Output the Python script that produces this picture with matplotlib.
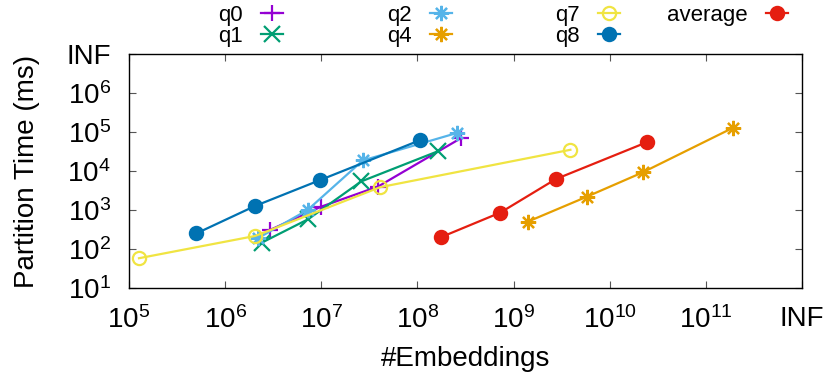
import matplotlib
matplotlib.use("Agg")
import matplotlib.pyplot as plt

plt.rcParams["font.family"] = ["Liberation Sans", "DejaVu Sans"]
plt.rcParams["mathtext.fontset"] = "custom"
plt.rcParams["mathtext.rm"] = "Liberation Sans"
plt.rcParams["mathtext.it"] = "Liberation Sans"
plt.rcParams["mathtext.default"] = "regular"

# embeddings (x) and partition time in ms (y)
q0_x = [2.95e6, 1.0e7, 3.9e7, 2.85e8]
q0_y = [310, 1220, 4000, 70000]
q1_x = [2.4e6, 7.3e6, 2.6e7, 1.63e8]
q1_y = [145, 580, 5400, 32000]
q2_x = [2.2e6, 7.2e6, 2.7e7, 2.6e8]
q2_y = [190, 1000, 18600, 95000]
q4_x = [1.4e9, 5.8e9, 2.2e10, 1.9e11]
q4_y = [500, 2200, 9200, 127000]
q7_x = [1.27e5, 2.05e6, 4.1e7, 3.9e9]
q7_y = [58, 216, 3850, 35000]
q8_x = [5.0e5, 2.05e6, 9.8e6, 1.07e8]
q8_y = [250, 1270, 5900, 62000]
avg_x = [1.75e8, 7.3e8, 2.75e9, 2.45e10]
avg_y = [200, 860, 6200, 55000]

x_ticks = [1e5, 1e6, 1e7, 1e8, 1e9, 1e10, 1e11, 1e12]
x_labels = ["$10^{5}$", "$10^{6}$", "$10^{7}$", "$10^{8}$", "$10^{9}$",
            "$10^{10}$", "$10^{11}$", "INF"]
y_ticks = [1e1, 1e2, 1e3, 1e4, 1e5, 1e6, 1e7]
y_labels = ["$10^{1}$", "$10^{2}$", "$10^{3}$", "$10^{4}$", "$10^{5}$",
            "$10^{6}$", "INF"]

star = (8, 2, 0)
series = [
    ("q0", q0_x, q0_y, "#9400d3", "+", "full"),
    ("q1", q1_x, q1_y, "#009e73", "x", "full"),
    ("q2", q2_x, q2_y, "#56b4e9", star, "full"),
    ("q4", q4_x, q4_y, "#e69f00", star, "full"),
    ("q7", q7_x, q7_y, "#f0e442", "o", "none"),
    ("q8", q8_x, q8_y, "#0072b2", "o", "full"),
    ("average", avg_x, avg_y, "#e51e10", "o", "full"),
]

fig = plt.figure(figsize=(8.3, 3.87), dpi=100)
ax = fig.add_axes([129 / 830, 1 - 288 / 387, 673 / 830, 234 / 387])

lines = {}
for name, xs, ys, col, mk, fill in series:
    ms = 9.5 if mk == "o" else 11
    ln, = ax.plot(xs, ys, color=col, marker=mk, fillstyle=fill, markersize=ms,
                  markeredgewidth=1.6, linewidth=1.6, label=name)
    lines[name] = ln

ax.set_xscale("log")
ax.set_yscale("log")
ax.set_xlim(1e5, 1e12)
ax.set_ylim(1e1, 1e7)
ax.set_xticks(x_ticks)
ax.set_xticklabels(x_labels)
ax.set_yticks(y_ticks)
ax.set_yticklabels(y_labels)
ax.minorticks_off()
ax.tick_params(direction="in", length=5, width=0.8, color="#555555",
               top=True, right=True, labelsize=20)
ax.tick_params(axis="x", pad=13)
ax.tick_params(axis="y", pad=13)
for s in ax.spines.values():
    s.set_linewidth(1.0)

ax.set_xlabel("#Embeddings", fontsize=20, labelpad=9)
ax.set_ylabel("Partition Time (ms)", fontsize=20, labelpad=19)

# gnuplot-style key: fixed-width columns, text left of the sample
columns = [["q0", "q1"], ["q2", "q4"], ["q7", "q8"], ["average"]]
col_right = [283, 452, 620, 788]
legends = []
for names, xr in zip(columns, col_right):
    leg = fig.legend([lines[n] for n in names], names, loc="upper right",
                     bbox_to_anchor=(xr / 830, 1 - 5 / 387), frameon=False,
                     markerfirst=False, fontsize=16, handlelength=1.0,
                     handletextpad=0.8, labelspacing=0.0, borderpad=0,
                     borderaxespad=0)
    legends.append(leg)

fig.savefig("out.png", dpi=100)
